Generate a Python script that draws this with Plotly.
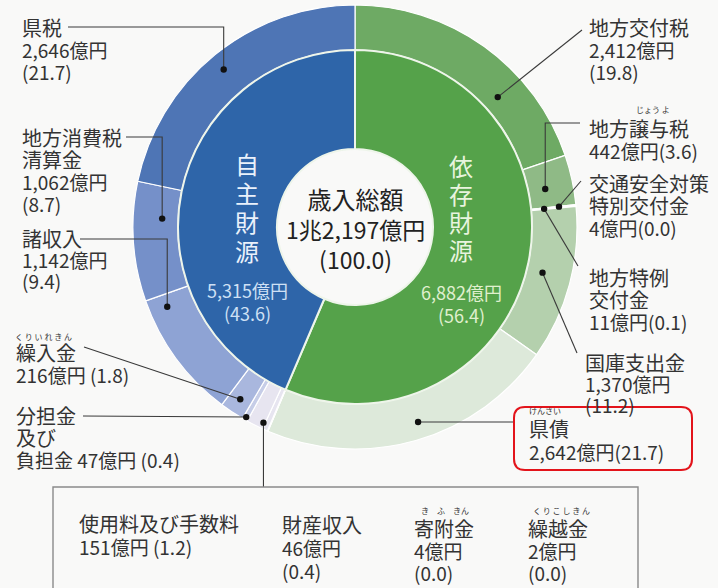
import math
import plotly.graph_objects as go

W, H = 718, 588

# Inner ring: the two funding groups (億円, %)
group_labels = ["依存財源", "自主財源"]
group_values = [6882, 5315]
group_pct = [56.4, 43.6]
group_colors = ["#55a24a", "#2e65a9"]

# Outer ring, clockwise from 12 o'clock (億円, %)
item_labels = ["地方交付税", "地方譲与税", "交通安全対策特別交付金", "地方特例交付金", "国庫支出金", "県債",
               "繰越金", "寄附金", "財産収入", "使用料及び手数料", "分担金及び負担金", "繰入金",
               "諸収入", "地方消費税清算金", "県税"]
item_values = [2412, 442, 4, 11, 1370, 2642, 2, 4, 46, 151, 47, 216, 1142, 1062, 2646]
item_pct = [19.8, 3.6, 0.0, 0.1, 11.2, 21.7, 0.0, 0.0, 0.4, 1.2, 0.4, 1.8, 9.4, 8.7, 21.7]
item_colors = ["#6eaa64", "#8fba86", "#a6c89e", "#a6c89e", "#b4d0ad", "#dde9da",
               "#e7e5f0", "#e7e5f0", "#e7e5f0", "#e7e5f0", "#c6cde7", "#a9b7de",
               "#8ea3d4", "#7590c9", "#4e75b5"]

total_value = 12197
total_pct = 100.0

FONT = "Noto Sans CJK JP"
TXT = "#333333"

# donut geometry in pixels
CX, CY = 355, 227
R_OUT, R_MID, R_HOLE = 222, 177, 78


def domain(r):
    return dict(x=[(CX - r) / W, (CX + r) / W], y=[1 - (CY + r) / H, 1 - (CY - r) / H])


def px(x, y):
    return x / W, 1 - y / H


def ring_point(i, frac, r):
    cum = sum(item_values[:i]) + frac * item_values[i]
    ang = cum / sum(item_values) * 2 * math.pi
    return CX + r * math.sin(ang), CY - r * math.cos(ang)


def oku(v):
    return f"{v:,}億円"


fig = go.Figure()
fig.add_trace(go.Pie(
    labels=item_labels, values=item_values, sort=False, direction="clockwise", rotation=0,
    hole=R_MID / R_OUT, domain=domain(R_OUT), textinfo="none", hoverinfo="label+value",
    marker=dict(colors=item_colors, line=dict(color="white", width=1.2)), showlegend=False,
))
fig.add_trace(go.Pie(
    labels=group_labels, values=group_values, sort=False, direction="clockwise", rotation=0,
    hole=R_HOLE / R_MID, domain=domain(R_MID), textinfo="none", hoverinfo="label+value",
    marker=dict(colors=group_colors, line=dict(color="#eef5ea", width=2)), showlegend=False,
))

ann = []
shapes = []


def text(x, y, s, size=19, color=TXT, anchor="left"):
    X, Y = px(x, y)
    ann.append(dict(x=X, y=Y, xref="paper", yref="paper", text=s, showarrow=False,
                    xanchor=anchor, yanchor="middle", align=anchor if anchor != "center" else "center",
                    font=dict(family=FONT, size=size, color=color)))


def block(x, y0, rows, step=22, sizes=None, color=TXT, anchor="left"):
    """Multi-line label; line pitch = 1.3 x base font size, glyph size set per line."""
    sizes = sizes or [20] + [19] * (len(rows) - 1)
    body = "<br>".join(f"<span style='font-size:{sz}px'>{r}</span>" for r, sz in zip(rows, sizes))
    yc = y0 + step * (len(rows) - 1) / 2
    text(x, yc, body, size=step / 1.3, color=color, anchor=anchor)


def ruby(x, y, s):
    text(x, y, s, size=8)


def leader(points):
    d = "M " + " L ".join(f"{px(x, y)[0]:.5f},{px(x, y)[1]:.5f}" for x, y in points)
    shapes.append(dict(type="path", path=d, xref="paper", yref="paper",
                       line=dict(color="#3a3a3a", width=1.1)))


def dot(p, r=3.2):
    x, y = p
    x0, y0 = px(x - r, y + r)
    x1, y1 = px(x + r, y - r)
    shapes.append(dict(type="circle", xref="paper", yref="paper", x0=x0, y0=y0, x1=x1, y1=y1,
                       fillcolor="#111111", line=dict(width=0)))


def pct(i):
    return f"({item_pct[i]:.1f})"


# ---- left side labels (自主財源) ----
d = ring_point(14, 0.49, 205)
block(20, 27, [item_labels[14], oku(item_values[14]), pct(14)])
leader([(68, 27), (d[0], 27), d]); dot(d)

d = ring_point(13, 0.70, 193)
block(20, 137, ["地方消費税", "清算金", oku(item_values[13]), pct(13)], sizes=[20, 20, 19, 19])
leader([(126, 137), (d[0], 137), d]); dot(d)

d = ring_point(12, 0.894, 204)
block(20, 238, [item_labels[12], oku(item_values[12]), pct(12)], step=21)
leader([(80, 239), (d[0], 239), d]); dot(d)

d = ring_point(11, 0.5, 207)
ruby(13, 336, "く り い れ き ん")
block(14, 352, [item_labels[11], f"{oku(item_values[11])} {pct(11)}"])
leader([(84, 347), d]); dot(d)

d = ring_point(10, 0.5, 219)
block(14, 415, ["分担金", "及び", f"負担金 {oku(item_values[10])} {pct(10)}"], sizes=[20, 20, 19])
leader([(83, 416), d]); dot(d)

# small items grouped in the box below
d = ring_point(9, 0.1, 216)
leader([d, (d[0], 487)]); dot(d)
shapes.append(dict(type="path", xref="paper", yref="paper", line=dict(color="#8a8a8a", width=1.4),
                   path="M {:.5f},{:.5f} L {:.5f},{:.5f} L {:.5f},{:.5f} L {:.5f},{:.5f}".format(
                       *px(53, 600), *px(53, 487), *px(638, 487), *px(638, 600))))
block(77, 523, [item_labels[9], f"{oku(item_values[9])} {pct(9)}"], step=23)
block(280, 524, [item_labels[8], oku(item_values[8]), pct(8)], step=23)
ruby(419, 510, "き　ふ　きん")
block(412, 528, [item_labels[7], oku(item_values[7]), pct(7)], step=22)
ruby(531, 510, "く り こ し き ん")
block(526, 528, [item_labels[6], oku(item_values[6]), pct(6)], step=22)

# ---- right side labels (依存財源) ----
d = ring_point(0, 0.67, 193)
block(587, 27, [item_labels[0], oku(item_values[0]), pct(0)])
leader([d, (582, 30)]); dot(d)

d = ring_point(1, 0.575, 194)
ruby(634, 110, "じょう よ")
block(587, 128, [item_labels[1], f"{oku(item_values[1])}{pct(1)}"])
leader([(580, 123), (d[0], 123), d]); dot(d)

d = ring_point(2, 0.5, 205)
block(587, 183, ["交通安全対策", "特別交付金", f"{oku(item_values[2])}{pct(2)}"], sizes=[20, 20, 19])
leader([d, (581, 181)]); dot(d)

d = ring_point(3, 0.5, 190)
block(587, 277, ["地方特例", "交付金", f"{oku(item_values[3])}{pct(3)}"], sizes=[20, 20, 19])
leader([d, (578, 266)]); dot(d)

d = ring_point(4, 0.47, 193)
block(583, 362, [item_labels[4], oku(item_values[4]), pct(4)], step=21)
leader([d, (577, 353)]); dot(d)

d = ring_point(5, 0.474, 205)
ruby(527, 410, "けんさい")
block(527, 428, [item_labels[5], f"{oku(item_values[5])}{pct(5)}"], step=23)
leader([d, (513, d[1])]); dot(d)

# highlight frame around 県債
x0, y0, x1, y1, rr = 514, 407, 692, 470, 11
P = lambda x, y: "{:.5f},{:.5f}".format(*px(x, y))
shapes.append(dict(type="path", xref="paper", yref="paper", line=dict(color="#e3141b", width=2),
                   path=(f"M {P(x0 + rr, y0)} L {P(x1 - rr, y0)} Q {P(x1, y0)} {P(x1, y0 + rr)} "
                         f"L {P(x1, y1 - rr)} Q {P(x1, y1)} {P(x1 - rr, y1)} L {P(x0 + rr, y1)} "
                         f"Q {P(x0, y1)} {P(x0, y1 - rr)} L {P(x0, y0 + rr)} Q {P(x0, y0)} {P(x0 + rr, y0)} Z")))

# ---- inner ring labels (vertical group names) ----
block(247, 164, list(group_labels[1]), step=29, sizes=[24] * 4, color="#eaf1fb", anchor="center")
block(247, 290, [oku(group_values[1]), f"({group_pct[1]:.1f})"], step=23, sizes=[18, 18],
      color="#cfe0f5", anchor="center")
block(461, 166, list(group_labels[0]), step=28, sizes=[24] * 4, color="#e8f4de", anchor="center")
block(461, 292, [oku(group_values[0]), f"({group_pct[0]:.1f})"], step=23, sizes=[18, 18],
      color="#e0f0cf", anchor="center")

# ---- centre ----
block(355, 198, ["歳入総額", f"{total_value // 10000}兆{total_value % 10000:,}億円", f"({total_pct:.1f})"],
      step=30, sizes=[24, 23, 23], color="#222222", anchor="center")

fig.update_layout(
    width=W, height=H, margin=dict(l=0, r=0, t=0, b=0),
    paper_bgcolor="#f9f9f8", plot_bgcolor="#f9f9f8",
    annotations=ann, shapes=shapes, showlegend=False,
)
fig.write_html("out.html")
